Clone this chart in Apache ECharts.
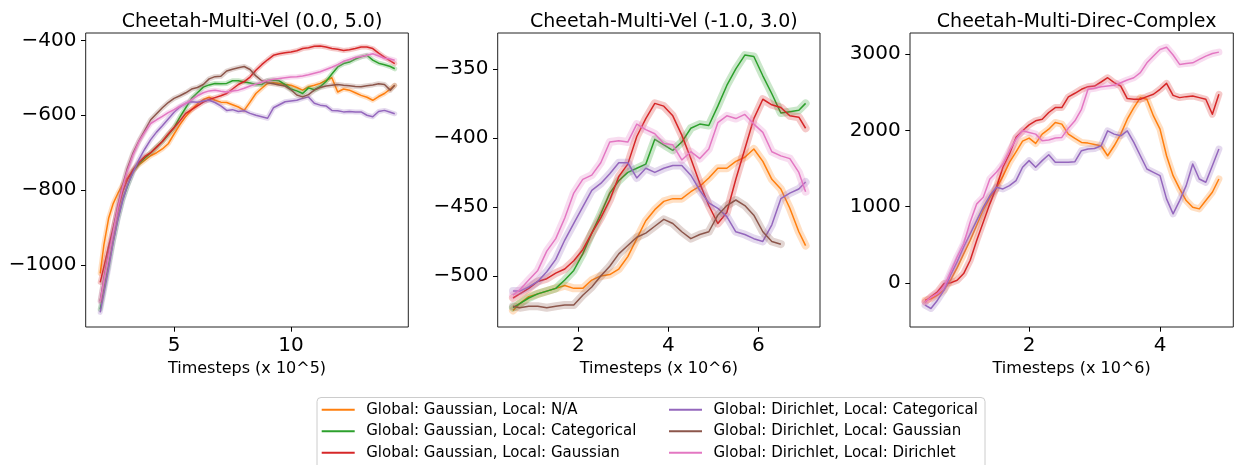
<!DOCTYPE html>
<html><head><meta charset="utf-8">
<script src="https://cdn.jsdelivr.net/npm/echarts@6/dist/echarts.min.js"></script>
<style>html,body{margin:0;padding:0;background:#fff}#c{width:1236px;height:465px}</style>
</head><body><div id="c"></div>
<script>
const NAMES = [
  'Global: Gaussian, Local: N/A',
  'Global: Gaussian, Local: Categorical',
  'Global: Gaussian, Local: Gaussian',
  'Global: Dirichlet, Local: Categorical',
  'Global: Dirichlet, Local: Gaussian',
  'Global: Dirichlet, Local: Dirichlet'
];
const COLORS = ['#ff7f0e', '#2ca02c', '#d62728', '#9467bd', '#8c564b', '#e377c2'];
const TITLES = ['Cheetah-Multi-Vel (0.0, 5.0)', 'Cheetah-Multi-Vel (-1.0, 3.0)', 'Cheetah-Multi-Direc-Complex'];
const XLABELS = ['Timesteps (x 10^5)', 'Timesteps (x 10^6)', 'Timesteps (x 10^6)'];

const X_TICKS_1 = [5, 10];
const Y_TICKS_1 = [-1000, -800, -600, -400];
const X_TICKS_2 = [2, 4, 6];
const Y_TICKS_2 = [-500, -450, -400, -350];
const X_TICKS_3 = [2, 4];
const Y_TICKS_3 = [0, 1000, 2000, 3000];

// Plot 1
const X1 = [1.84, 2.0, 2.2, 2.4, 2.6, 2.8, 3.0, 3.25, 3.5, 3.75, 4.0, 4.25, 4.5, 4.75, 5.0, 5.25, 5.5, 5.75, 6.0, 6.25, 6.5, 6.75, 7.0, 7.25, 7.5, 7.75, 8.0, 8.25, 8.5, 8.75, 9.0, 9.25, 9.5, 9.75, 10.0, 10.25, 10.5, 10.75, 11.0, 11.25, 11.5, 11.75, 12.0, 12.25, 12.5, 12.75, 13.0, 13.25, 13.5, 13.75, 14.0, 14.25, 14.44];
const P1_ORANGE = [-1022, -945, -875, -835, -808, -785, -768, -748, -732, -720, -708, -700, -690, -676, -650, -625, -603, -585, -570, -558, -552, -560, -565, -566, -572, -578, -587, -565, -542, -528, -515, -513, -515, -518, -520, -526, -533, -524, -520, -515, -507, -500, -538, -530, -533, -540, -547, -552, -560, -550, -542, -530, -520];
const P1_GREEN = [-1118, -1065, -1000, -935, -875, -825, -790, -748, -728, -714, -700, -685, -670, -652, -633, -605, -580, -555, -540, -525, -519, -515, -516, -515, -508, -508, -511, -514, -518, -518, -507, -506, -508, -518, -530, -535, -542, -527, -532, -524, -510, -490, -471, -462, -458, -450, -444, -440, -453, -461, -465, -470, -476];
const P1_RED = [-1046, -1005, -950, -900, -850, -805, -772, -745, -725, -710, -700, -685, -670, -650, -633, -615, -595, -585, -575, -565, -558, -553, -548, -542, -530, -518, -510, -498, -480, -465, -452, -440, -436, -433, -431, -428, -422, -420, -416, -415, -418, -422, -424, -427, -425, -422, -418, -418, -422, -434, -445, -455, -462];
const P1_PURPLE = [-1126, -1075, -1010, -937, -878, -828, -788, -752, -718, -690, -665, -645, -628, -610, -592, -578, -568, -564, -565, -562, -560, -566, -575, -587, -585, -590, -588, -595, -600, -604, -608, -580, -572, -564, -562, -560, -555, -551, -568, -573, -575, -587, -588, -591, -590, -591, -591, -600, -604, -590, -587, -592, -596];
const P1_BROWN = [-1095, -1035, -968, -905, -840, -787, -742, -700, -668, -640, -612, -596, -580, -566, -555, -548, -540, -530, -526, -518, -503, -497, -496, -482, -477, -473, -470, -478, -495, -508, -513, -516, -519, -522, -532, -546, -551, -545, -533, -526, -522, -520, -518, -520, -521, -523, -524, -521, -519, -516, -518, -533, -520];
const P1_PINK = [-1098, -1040, -975, -910, -845, -792, -748, -705, -670, -645, -622, -612, -603, -593, -585, -576, -568, -558, -548, -540, -535, -533, -536, -538, -535, -533, -528, -522, -517, -512, -507, -504, -502, -500, -498, -497, -495, -492, -488, -484, -478, -472, -465, -456, -451, -446, -443, -440, -436, -442, -448, -450, -453];

// Plot 2
const X2 = [0.55, 0.7, 0.9, 1.1, 1.3, 1.5, 1.7, 1.9, 2.1, 2.3, 2.5, 2.7, 2.9, 3.1, 3.3, 3.5, 3.7, 3.9, 4.1, 4.3, 4.5, 4.7, 4.9, 5.1, 5.3, 5.5, 5.7, 5.9, 6.1, 6.3, 6.5, 6.7, 6.9, 7.05];
const P2_ORANGE = [-525, -520, -515, -513, -511, -509, -507, -509, -509, -503, -500, -499, -495, -486, -473, -460, -452, -446, -444, -444, -439, -435, -429, -422, -422, -417, -414, -408, -417, -430, -437, -451, -468, -478];
const P2_GREEN = [-523, -520, -516, -513, -511, -509, -503, -496, -484, -469, -455, -440, -431, -425, -422, -419, -401, -405, -409, -403, -393, -390, -391, -377, -362, -350, -340, -341, -355, -368, -382, -381, -380, -375];
const P2_RED = [-516, -513, -509, -504, -502, -498, -495, -489, -481, -469, -458, -445, -428, -419, -399, -386, -375, -377, -384, -398, -415, -433, -449, -462, -454, -430, -408, -386, -372, -376, -378, -384, -385, -393];
const P2_PURPLE = [-511, -511, -508, -504, -497, -488, -474, -462, -450, -438, -433, -426, -418, -418, -429, -422, -425, -422, -420, -420, -427, -438, -447, -451, -457, -468, -470, -473, -475, -463, -444, -440, -437, -432];
const P2_BROWN = [-522, -523, -522, -522, -523, -522, -521, -521, -514, -508, -500, -493, -484, -478, -472, -469, -464, -459, -462, -468, -473, -470, -468, -456, -449, -445, -449, -456, -468, -475, -477, null, null, null];
const P2_PINK = [-514, -510, -503, -496, -482, -473, -458, -440, -430, -427, -418, -403, -402, -403, -390, -394, -397, -404, -405, -416, -410, -415, -408, -389, -384, -386, -383, -390, -396, -410, -413, -415, -425, -439];

// Plot 3
const X3 = [0.41, 0.5, 0.6, 0.7, 0.8, 0.9, 1.0, 1.1, 1.2, 1.3, 1.4, 1.5, 1.6, 1.7, 1.8, 1.9, 2.0, 2.1, 2.2, 2.3, 2.4, 2.5, 2.6, 2.7, 2.8, 2.9, 3.0, 3.1, 3.2, 3.3, 3.4, 3.5, 3.6, 3.7, 3.8, 3.9, 4.0, 4.1, 4.2, 4.3, 4.4, 4.5, 4.6, 4.7, 4.8, 4.9];
const P3_ORANGE = [-226, -209, -161, -95, 40, 200, 380, 560, 760, 960, 1120, 1240, 1400, 1580, 1720, 1860, 1900, 1830, 1952, 2017, 2105, 2083, 1952, 1895, 1843, 1834, 1817, 1799, 1668, 1799, 1952, 2148, 2300, 2431, 2409, 2191, 2017, 1668, 1407, 1233, 1080, 993, 971, 1080, 1189, 1363];
const P3_RED = [-250, -183, -117, -8, 0, 35, 122, 297, 558, 798, 1037, 1255, 1517, 1691, 1909, 1996, 2074, 2127, 2148, 2236, 2301, 2301, 2440, 2488, 2540, 2575, 2583, 2636, 2692, 2627, 2583, 2418, 2409, 2409, 2444, 2475, 2540, 2618, 2461, 2431, 2444, 2453, 2431, 2409, 2213, 2475];
const P3_PURPLE = [-292, -336, -227, -95, 101, 275, 471, 645, 820, 994, 1146, 1255, 1233, 1277, 1342, 1517, 1604, 1517, 1604, 1682, 1582, 1582, 1582, 1590, 1734, 1756, 1764, 1799, 1995, 1952, 1930, 1995, 1843, 1668, 1494, 1451, 1407, 1102, 906, 1080, 1276, 1560, 1363, 1320, 1538, 1756];
const P3_PINK = [-250, -191, -139, -52, 144, 340, 514, 798, 1037, 1124, 1364, 1451, 1560, 1734, 1887, 1996, 1974, 1952, 1865, 1874, 1900, 1909, 2030, 2127, 2278, 2540, 2553, 2575, 2583, 2592, 2627, 2662, 2692, 2758, 2888, 2976, 3063, 3093, 2990, 2867, 2880, 2888, 2932, 2976, 3010, 3028];

const PLOTS = [
  {x: X1, ys: [P1_ORANGE, P1_GREEN, P1_RED, P1_PURPLE, P1_BROWN, P1_PINK], xr: [1.22, 15.02], yr: [-1165, -380.5], xt: X_TICKS_1, yt: Y_TICKS_1, left: 85.7, width: 322.6, band: 5},
  {x: X2, ys: [P2_ORANGE, P2_GREEN, P2_RED, P2_PURPLE, P2_BROWN, P2_PINK], xr: [0.21, 7.37], yr: [-537, -324], xt: X_TICKS_2, yt: Y_TICKS_2, left: 497.7, width: 322.3, band: 8},
  {x: X3, ys: [P3_ORANGE, null, P3_RED, P3_PURPLE, null, P3_PINK], xr: [0.18, 5.12], yr: [-579, 3279], xt: X_TICKS_3, yt: Y_TICKS_3, left: 910, width: 323.3, band: 7}
];

const FONT = 'DejaVu Sans';
const grids = [], xAxes = [], yAxes = [], titles = [], series = [];
PLOTS.forEach((p, gi) => {
  grids.push({left: p.left, top: 33, width: p.width, height: 294, show: true, borderColor: '#222', borderWidth: 1, backgroundColor: 'transparent', containLabel: false});
  xAxes.push({
    type: 'value', gridIndex: gi, min: p.xr[0], max: p.xr[1], position: 'bottom',
    splitLine: {show: false}, axisLine: {show: false, onZero: false},
    axisTick: {show: true, length: 4.7, lineStyle: {color: '#000', width: 1}, customValues: p.xt},
    axisLabel: {customValues: p.xt, fontSize: 20, color: '#000', margin: 9, fontFamily: FONT},
    name: XLABELS[gi], nameLocation: 'middle', nameGap: 32,
    nameTextStyle: {fontSize: 16, color: '#000', fontFamily: FONT}
  });
  yAxes.push({
    type: 'value', gridIndex: gi, min: p.yr[0], max: p.yr[1], position: 'left',
    splitLine: {show: false}, axisLine: {show: false, onZero: false},
    axisTick: {show: true, length: 4.7, lineStyle: {color: '#000', width: 1}, customValues: p.yt},
    axisLabel: {customValues: p.yt, fontSize: 20, color: '#000', margin: 9.3, fontFamily: FONT,
      formatter: v => String(v).replace('-', '\u2212')}
  });
  titles.push({text: TITLES[gi], left: p.left + p.width / 2, top: 8, textAlign: 'center',
    textStyle: {fontSize: 19, fontWeight: 'normal', color: '#000', fontFamily: FONT}});
  p.ys.forEach((ys, k) => {
    if (!ys) return;
    const data = [];
    p.x.forEach((x, i) => { if (ys[i] != null) data.push([x, ys[i]]); });
    series.push({type: 'line', name: NAMES[k] + ' (band)', xAxisIndex: gi, yAxisIndex: gi, data,
      symbol: 'none', silent: true, animation: false,
      lineStyle: {color: COLORS[k], width: p.band, opacity: 0.25, join: 'round', cap: 'round'},
      itemStyle: {color: COLORS[k]}});
    series.push({type: 'line', name: NAMES[k], xAxisIndex: gi, yAxisIndex: gi, data,
      symbol: 'none', silent: true, animation: false,
      lineStyle: {color: COLORS[k], width: 1.5, join: 'round'},
      itemStyle: {color: COLORS[k]}});
  });
});

const legendText = {fontSize: 15, lineHeight: 21.5, color: '#000', fontFamily: FONT, padding: [0, 0, 0, 6.5]};
const chart = echarts.init(document.getElementById('c'), null, {renderer: 'canvas'});
chart.setOption({
  animation: false,
  backgroundColor: '#fff',
  title: titles,
  grid: grids,
  xAxis: xAxes,
  yAxis: yAxes,
  legend: [
    {orient: 'vertical', left: 321.7, top: 399, padding: 0, itemWidth: 33, itemHeight: 2, itemGap: 0,
      icon: 'rect', selectedMode: false, data: NAMES.slice(0, 3), textStyle: legendText},
    {orient: 'vertical', left: 669, top: 399, padding: 0, itemWidth: 33, itemHeight: 2, itemGap: 0,
      icon: 'rect', selectedMode: false, data: NAMES.slice(3), textStyle: legendText}
  ],
  graphic: {elements: [
    {type: 'rect', z: 0, shape: {x: 317, y: 397.5, width: 668, height: 90, r: 4},
      style: {fill: '#fff', stroke: '#cccccc', lineWidth: 1}}
  ]},
  series
});
</script></body></html>
